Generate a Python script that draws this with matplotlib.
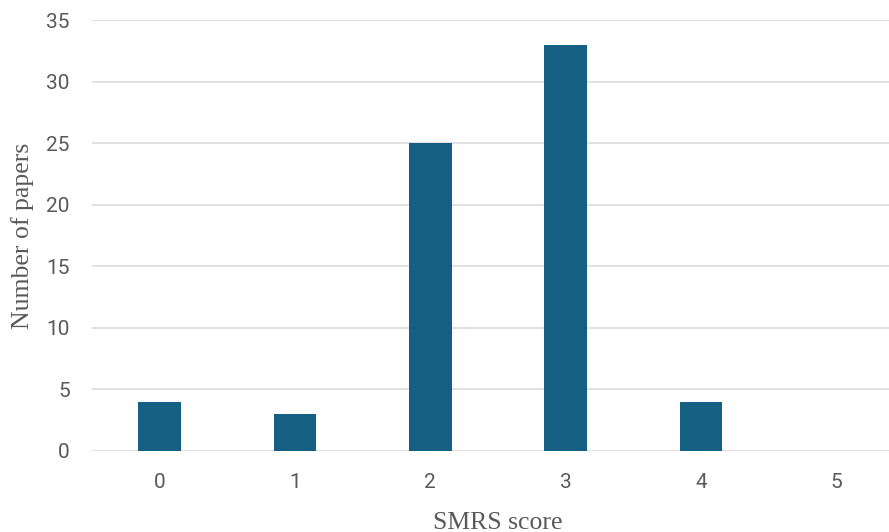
import matplotlib
matplotlib.use("Agg")
import matplotlib.pyplot as plt

categories = ["0", "1", "2", "3", "4", "5"]
values = [4, 3, 25, 33, 4, 0]
yticks = [0, 5, 10, 15, 20, 25, 30, 35]

fig = plt.figure(figsize=(8.89, 5.32), dpi=100)
ax = fig.add_axes([92/889, 81/532, (904-92)/889, 431/532])

x = list(range(len(categories)))
ax.bar(x, values, width=0.315, color="#155f82", zorder=3)

ax.set_xlim(-0.5, 5.5)
ax.set_ylim(0, 35)
ax.set_yticks(yticks)
ax.set_xticks(x)
ax.set_xticklabels(categories)
ax.grid(axis="y", color="#d9d9d9", linewidth=1.1, zorder=0)
ax.set_axisbelow(True)
for s in ax.spines.values():
    s.set_visible(False)
ax.tick_params(length=0, labelsize=15, labelcolor="#595959", pad=16)
for lab in ax.get_xticklabels() + ax.get_yticklabels():
    lab.set_fontfamily("Roboto")

ax.set_xlabel("SMRS score", fontfamily="Liberation Serif", fontsize=18.5, color="#595959", labelpad=14)
ax.set_ylabel("Number of papers", fontfamily="Liberation Serif", fontsize=18.5, color="#595959", labelpad=9)

fig.savefig("out.png", dpi=100)
